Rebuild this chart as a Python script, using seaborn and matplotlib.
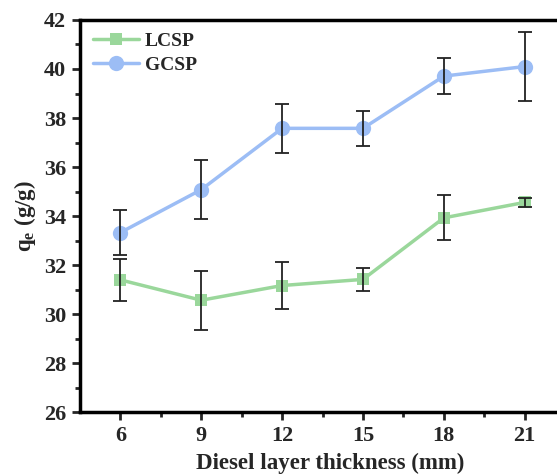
import matplotlib
matplotlib.use('Agg')
import matplotlib.pyplot as plt
import seaborn as sns
import pandas as pd

sns.set_style(style='ticks')
plt.rcParams['font.family'] = ['Liberation Serif', 'DejaVu Serif']
plt.rcParams['font.weight'] = 'bold'
plt.rcParams['mathtext.fontset'] = 'custom'
plt.rcParams['mathtext.rm'] = 'Liberation Serif:bold'
plt.rcParams['mathtext.bf'] = 'Liberation Serif:bold'

thickness = [6, 9, 12, 15, 18, 21]
lcsp = [31.40, 30.57, 31.17, 31.42, 33.93, 34.56]
lcsp_err = [0.85, 1.2, 0.95, 0.48, 0.92, 0.18]
gcsp = [33.33, 35.08, 37.58, 37.58, 39.71, 40.10]
gcsp_err = [0.93, 1.2, 1.0, 0.7, 0.73, 1.42]

green = '#9ad79b'
blue = '#9cbdf5'

fig = plt.figure(figsize=(5.57, 4.75), dpi=100)
ax = fig.add_axes([0.1436, 0.132, 0.871, 0.826])

df_l = pd.DataFrame({'x': thickness, 'y': lcsp})
df_g = pd.DataFrame({'x': thickness, 'y': gcsp})
sns.lineplot(data=df_l, x='x', y='y', ax=ax, color=green, marker='s', markersize=9,
             markeredgewidth=0, linewidth=2.5, label='LCSP', zorder=2)
sns.lineplot(data=df_g, x='x', y='y', ax=ax, color=blue, marker='o', markersize=11,
             markeredgewidth=0, linewidth=2.5, label='GCSP', zorder=2)
ax.errorbar(thickness, lcsp, yerr=lcsp_err, fmt='none', ecolor='#222222',
            elinewidth=1.3, capsize=5, capthick=1.3, zorder=3)
ax.errorbar(thickness, gcsp, yerr=gcsp_err, fmt='none', ecolor='#222222',
            elinewidth=1.3, capsize=5, capthick=1.3, zorder=3)

ax.set_xlim(4.5, 22.5)
ax.set_ylim(26, 42)
ax.set_xticks(thickness)
ax.set_xticks([7.5, 10.5, 13.5, 16.5, 19.5], minor=True)
ax.set_yticks(range(26, 43, 2))
ax.set_yticks(range(27, 42, 2), minor=True)
ax.tick_params(axis='both', which='major', direction='out', length=6, width=2,
               labelsize=16, pad=4)
ax.tick_params(axis='both', which='minor', direction='out', length=3.5, width=2)
for lab in ax.get_xticklabels() + ax.get_yticklabels():
    lab.set_fontweight('bold')
for side in ['left', 'bottom', 'top', 'right']:
    ax.spines[side].set_linewidth(2.5)
    ax.spines[side].set_color('black')

ax.set_xlabel('Diesel layer thickness (mm)', fontsize=16.5, fontweight='bold')
ax.xaxis.set_label_coords(0.515, -0.102)
ax.set_ylabel(r'q$_\mathregular{e}$ (g/g)', fontsize=16.5, fontweight='bold', labelpad=4)

leg = ax.legend(loc='upper left', frameon=False, handlelength=2.4,
                borderaxespad=0.25, handletextpad=0.3, labelspacing=0.3,
                prop={'weight': 'bold', 'size': 14})

fig.savefig('out.png', dpi=100)
plt.close(fig)
